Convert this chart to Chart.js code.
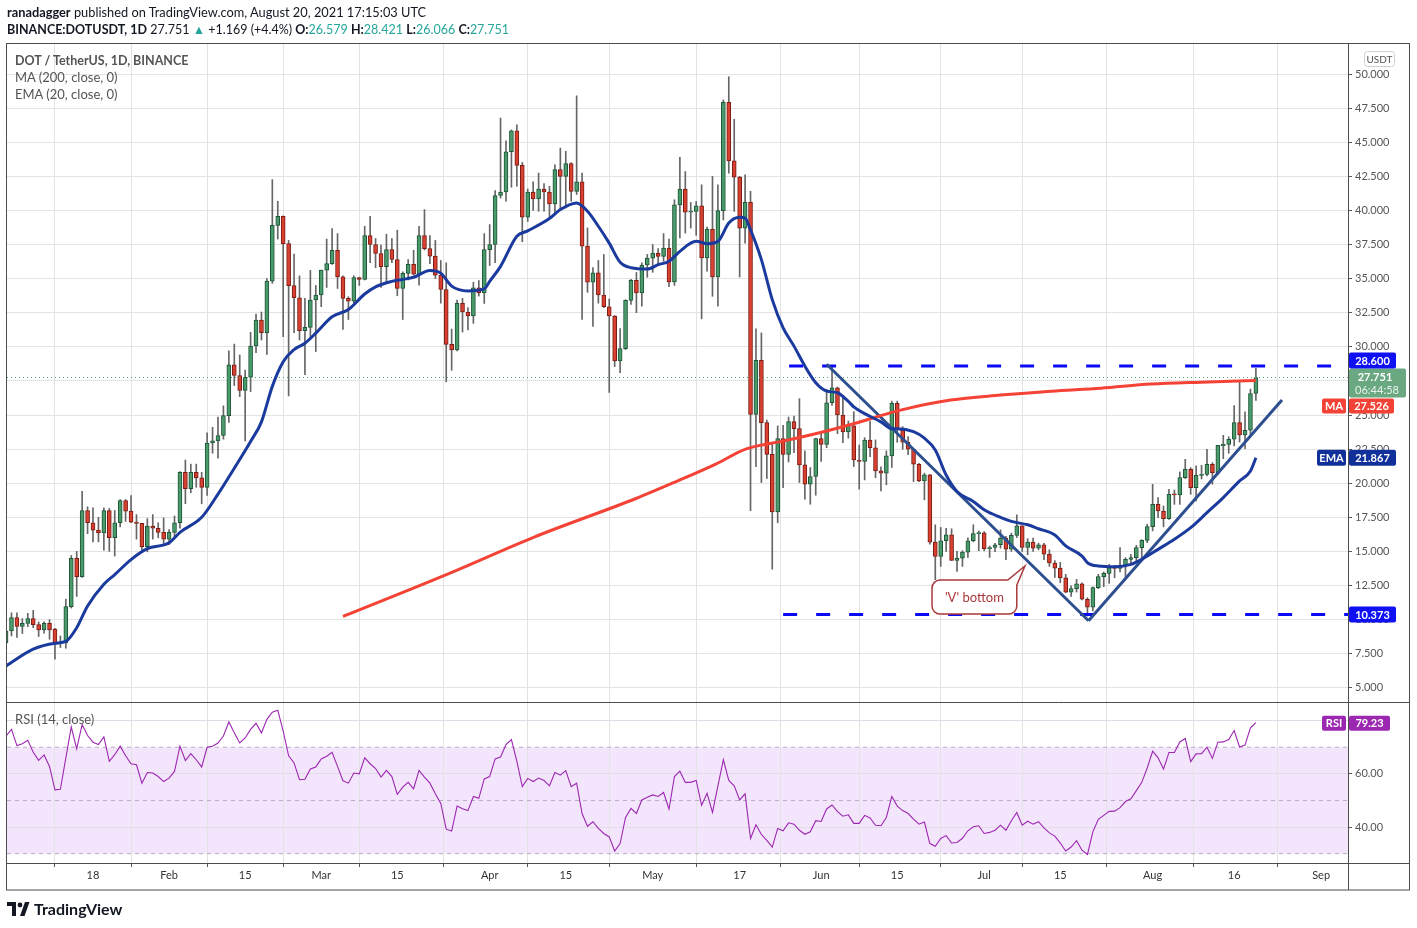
<!DOCTYPE html>
<html>
<head>
<meta charset="utf-8">
<script src="https://cdn.jsdelivr.net/npm/chart.js@4.4.1/dist/chart.umd.min.js"></script>
<style>
  body { margin: 0; background: #fff; }
  #wrap { position: relative; width: 1417px; height: 928px; font-family: Lato, "Open Sans", sans-serif; color: #131722; }
  canvas { position: absolute; left: 0; top: 0; }
  .t { position: absolute; white-space: nowrap; font-size: 13px; line-height: 17px; }
  .g { color: #26a69a; }
  .lg { color: #555; }
</style>
</head>
<body>
<div id="wrap">
  <canvas id="chart" width="1417" height="928"></canvas>
  <div class="t" style="left:7px;top:4px;font-size:12.8px"><b>ranadagger</b> published on TradingView.com, August 20, 2021 17:15:03 UTC</div>
  <div class="t" style="left:7px;top:21px;font-size:12.5px"><b>BINANCE:DOTUSDT, 1D</b> 27.751 <span class="g">▲</span> +1.169 (+4.4%) <b>O:</b><span class="g">26.579</span> <b>H:</b><span class="g">28.421</span> <b>L:</b><span class="g">26.066</span> <b>C:</b><span class="g">27.751</span></div>
  <div class="t lg" style="left:15px;top:52px;font-weight:700;font-size:12.5px">DOT / TetherUS, 1D, BINANCE</div>
  <div class="t lg" style="left:15px;top:69px">MA (200, close, 0)</div>
  <div class="t lg" style="left:15px;top:86px">EMA (20, close, 0)</div>
  <div class="t lg" style="left:15px;top:711px">RSI (14, close)</div>
  <div class="t" style="left:7px;top:900px;font-size:16px;line-height:18px;font-weight:700;color:#131722">
    <svg width="24" height="14" viewBox="0 0 24 14" style="vertical-align:-1px;margin-right:3px"><path d="M0 0h9v14h-4v-10h-5z" fill="#131722"/><circle cx="13" cy="3" r="2.4" fill="#131722"/><path d="M13 14l5-14h4.5l-5 14z" fill="#131722"/></svg>TradingView
  </div>
</div>
<script>
// day numbers count from 1 Jan 2021 (= day 0); first candle is 2 Jan
const firstDay = 1;

const opens = [
  8.3, 9.17, 10.15, 9.5, 9.73, 10.07, 9.63, 9.24, 9.73, 9.3,
  8.24, 8.3, 10.95, 14.5, 13.15, 18.0, 17.1, 16.56, 16.36, 18.0,
  16.0, 17.1, 18.73, 17.95, 17.15, 17.05, 15.34, 16.85, 16.7, 16.4,
  15.9, 16.4, 17.1, 20.8, 19.6, 20.8, 20.4, 19.7, 22.95, 23.1,
  23.5, 24.96, 28.67, 27.9, 26.8, 27.77, 30.06, 31.96, 31.04, 34.82,
  38.9, 39.57, 37.57, 34.48, 33.6, 31.18, 31.43, 33.43, 33.8, 35.62,
  36.1, 37.08, 35.13, 33.55, 33.35, 35.08, 34.94, 38.16, 37.5, 36.84,
  35.87, 37.13, 36.4, 34.28, 35.38, 36.04, 35.33, 38.16, 37.2, 36.65,
  35.26, 34.2, 30.18, 29.77, 33.18, 32.55, 32.26, 34.33, 33.96, 37.13,
  37.5, 41.09, 41.35, 44.3, 45.84, 43.3, 39.5, 41.35, 40.84, 41.57,
  41.35, 40.48, 42.99, 42.5, 43.43, 41.4, 42.09, 37.38, 34.74, 35.43,
  33.8, 32.94, 32.26, 28.96, 29.87, 33.4, 34.87, 33.96, 36.0, 36.5,
  36.88, 36.63, 37.24, 34.76, 40.41, 41.56, 39.88, 39.93, 40.34, 36.51,
  38.63, 35.12, 39.98, 47.93, 43.63, 42.44, 38.7, 40.6, 25.05, 29.0,
  24.44, 22.12, 17.9, 23.27, 22.12, 24.51, 24.0, 21.34, 19.93, 20.49,
  23.27, 22.85, 25.9, 27.0, 25.0, 23.76, 24.2, 21.7, 21.59, 23.17,
  22.6, 20.9, 20.73, 22.0, 25.85, 23.9, 23.0, 22.49, 21.39, 20.17,
  20.61, 15.68, 14.63, 15.78, 16.22, 14.34, 14.51, 14.95, 15.78, 16.3,
  16.37, 15.2, 15.29, 15.49, 15.98, 15.17, 16.17, 16.88, 15.29, 15.68,
  15.24, 15.49, 14.8, 14.15, 13.78, 13.07, 12.02, 12.27, 12.63, 11.49,
  10.92, 12.34, 13.15, 13.39, 13.81, 13.76, 13.98, 14.42, 14.54, 15.28,
  15.81, 16.82, 18.45, 17.96, 17.4, 19.22, 19.15, 20.41, 21.02, 19.68,
  20.58, 20.65, 21.39, 20.78, 22.73, 22.85, 23.22, 24.44, 23.54, 23.88,
  26.579
];
const highs = [
  9.4, 10.5, 10.5, 10.07, 10.46, 10.68, 9.83, 9.83, 10.0, 9.36,
  8.8, 11.5, 14.7, 15.0, 19.4, 18.27, 18.2, 17.5, 18.2, 18.15,
  18.0, 18.8, 18.8, 19.1, 17.7, 17.05, 17.4, 17.7, 17.1, 17.45,
  16.6, 17.6, 20.85, 21.7, 21.4, 21.4, 20.8, 23.7, 24.1, 24.84,
  25.67, 29.7, 30.2, 29.4, 28.3, 31.06, 32.4, 32.55, 35.0, 42.26,
  40.67, 39.6, 37.8, 36.8, 35.2, 33.55, 35.6, 34.5, 35.62, 37.9,
  38.67, 38.3, 35.2, 33.67, 35.2, 35.1, 38.84, 39.57, 37.94, 37.45,
  38.26, 37.94, 38.55, 35.5, 36.4, 37.08, 38.84, 40.06, 38.16, 37.8,
  36.33, 36.16, 31.3, 33.43, 33.55, 32.87, 34.74, 34.86, 38.3, 38.96,
  41.45, 46.77, 45.1, 45.9, 46.28, 43.52, 41.57, 42.1, 42.74, 41.96,
  41.77, 43.35, 44.57, 44.33, 43.5, 48.4, 42.74, 38.72, 35.8, 36.33,
  36.77, 33.5, 32.3, 31.33, 33.45, 34.94, 35.45, 36.15, 36.77, 37.5,
  37.2, 38.3, 37.9, 40.78, 43.9, 42.85, 40.58, 40.66, 41.88, 38.78,
  42.49, 41.88, 48.1, 49.8, 46.68, 42.5, 42.6, 41.39, 31.32, 31.02,
  24.63, 22.98, 24.2, 24.24, 24.85, 24.93, 26.2, 22.37, 21.15, 23.3,
  23.75, 26.83, 28.6, 27.05, 26.39, 24.56, 25.24, 22.8, 23.34, 24.56,
  23.17, 21.2, 22.37, 26.02, 26.02, 24.15, 23.42, 22.49, 21.45, 20.73,
  20.66, 16.95, 16.76, 16.7, 16.66, 15.0, 15.05, 16.0, 16.95, 16.5,
  16.45, 15.39, 15.6, 16.58, 16.1, 16.34, 17.68, 16.88, 15.93, 15.98,
  15.6, 15.6, 15.12, 14.32, 14.2, 13.32, 12.47, 12.95, 12.7, 11.61,
  12.41, 13.32, 13.49, 14.05, 13.98, 15.28, 14.54, 14.78, 15.45, 15.86,
  16.99, 19.92, 18.94, 18.33, 19.56, 19.51, 20.83, 21.75, 21.14, 21.27,
  21.31, 22.49, 21.51, 22.78, 23.51, 23.41, 25.7, 27.5, 25.23, 26.9,
  28.421
];
const lows = [
  8.1, 8.8, 8.7, 8.98, 9.49, 9.41, 8.76, 9.0, 8.56, 7.1,
  7.95, 7.9, 10.85, 11.7, 13.1, 16.3, 15.7, 15.7, 15.1, 15.0,
  14.66, 16.8, 17.2, 17.1, 15.9, 14.97, 14.97, 15.9, 16.0, 15.5,
  15.5, 16.0, 16.7, 18.5, 19.3, 19.7, 18.5, 19.1, 22.2, 21.84,
  23.23, 24.45, 27.16, 26.35, 23.1, 26.72, 29.57, 30.5, 29.45, 34.65,
  37.9, 30.74, 26.4, 31.04, 30.5, 27.96, 30.74, 29.65, 32.94, 34.35,
  36.04, 34.28, 31.28, 32.0, 33.2, 34.5, 34.9, 36.16, 35.8, 34.35,
  34.77, 36.16, 33.74, 32.0, 34.9, 35.25, 34.52, 37.1, 36.1, 35.0,
  33.2, 27.43, 28.28, 29.7, 31.08, 31.23, 31.72, 33.72, 33.18, 35.96,
  36.16, 40.9, 40.67, 41.7, 41.77, 37.7, 39.2, 40.0, 39.94, 39.94,
  39.45, 39.82, 40.0, 40.18, 40.67, 41.16, 32.0, 34.0, 31.5, 33.2,
  32.87, 26.65, 28.55, 28.1, 29.8, 33.1, 32.5, 32.98, 35.1, 35.46,
  36.0, 36.27, 34.4, 34.5, 37.98, 38.34, 38.7, 38.17, 32.05, 35.54,
  33.7, 32.98, 39.3, 42.73, 39.93, 35.12, 37.6, 17.98, 21.22, 20.05,
  20.34, 13.7, 17.1, 19.68, 21.56, 22.24, 20.05, 18.83, 18.46, 19.12,
  21.6, 22.6, 25.7, 23.63, 22.98, 23.3, 21.22, 19.56, 20.24, 21.95,
  20.4, 19.44, 19.88, 21.15, 23.0, 22.49, 22.1, 20.12, 20.12, 18.78,
  15.54, 12.93, 13.9, 15.0, 14.34, 13.54, 13.9, 14.56, 15.7, 15.05,
  15.05, 14.56, 14.98, 15.24, 14.39, 15.0, 16.02, 15.0, 14.76, 15.0,
  15.12, 14.39, 13.9, 13.1, 12.7, 11.97, 11.7, 12.02, 11.44, 10.26,
  10.63, 12.27, 12.41, 12.66, 13.07, 13.49, 13.0, 14.05, 14.3, 14.42,
  15.64, 16.5, 17.48, 16.8, 17.35, 18.45, 18.45, 20.34, 19.19, 18.7,
  20.31, 20.53, 19.92, 20.66, 21.8, 22.2, 22.73, 23.02, 22.54, 23.42,
  26.066
];
const closes = [
  9.17, 10.15, 9.5, 9.73, 10.07, 9.63, 9.24, 9.73, 9.24, 8.24,
  8.3, 10.95, 14.5, 13.15, 18.0, 17.1, 16.56, 16.36, 18.0, 16.0,
  17.1, 18.73, 17.95, 17.15, 17.05, 15.34, 16.85, 16.7, 16.4, 15.9,
  16.4, 17.1, 20.8, 19.6, 20.8, 20.4, 19.7, 22.95, 23.1, 23.5,
  24.96, 28.67, 27.9, 26.8, 27.77, 30.06, 31.96, 31.04, 34.82, 38.9,
  39.57, 37.57, 34.48, 33.6, 31.18, 31.43, 33.43, 33.8, 35.62, 36.1,
  37.08, 35.13, 33.55, 33.35, 35.08, 34.94, 38.16, 37.5, 36.84, 35.87,
  37.13, 36.4, 34.28, 35.38, 36.04, 35.33, 38.16, 37.2, 36.65, 35.26,
  34.2, 30.18, 29.77, 33.18, 32.55, 32.26, 34.33, 33.96, 37.13, 37.5,
  41.09, 41.35, 44.3, 45.84, 43.3, 39.5, 41.35, 40.84, 41.57, 41.35,
  40.48, 42.99, 42.5, 43.43, 41.4, 42.09, 37.38, 34.74, 35.43, 33.8,
  32.94, 32.26, 28.96, 29.87, 33.4, 34.87, 33.96, 36.0, 36.5, 36.88,
  36.63, 37.24, 34.76, 40.41, 41.56, 39.88, 39.93, 40.34, 36.51, 38.63,
  35.12, 39.98, 47.93, 43.63, 42.44, 38.7, 40.6, 25.05, 29.0, 24.44,
  22.12, 17.9, 23.27, 22.12, 24.51, 24.0, 21.34, 19.93, 20.49, 23.27,
  22.85, 25.9, 27.0, 25.0, 23.76, 24.2, 21.7, 21.59, 23.17, 22.6,
  20.9, 20.73, 22.0, 25.85, 23.9, 23.0, 22.49, 21.39, 20.17, 20.61,
  15.68, 14.63, 15.78, 16.22, 14.34, 14.51, 14.95, 15.78, 16.3, 16.37,
  15.2, 15.29, 15.49, 15.98, 15.17, 16.17, 16.88, 15.29, 15.68, 15.24,
  15.49, 14.8, 14.15, 13.78, 13.07, 12.02, 12.27, 12.63, 11.49, 10.92,
  12.34, 13.15, 13.39, 13.81, 13.76, 13.98, 14.42, 14.54, 15.28, 15.81,
  16.82, 18.45, 17.96, 17.4, 19.19, 19.15, 20.41, 21.02, 19.68, 20.58,
  20.65, 21.39, 20.78, 22.78, 22.85, 23.22, 24.44, 23.54, 23.88, 26.58,
  27.751
];

// EMA 20 and MA 200 at these days
const emaDays = [1, 6, 10, 12, 14, 16, 19, 21, 24, 27, 31, 33, 37, 40, 43, 46, 48, 50, 52, 54, 56, 58, 61, 64, 67, 69, 72, 74, 76, 79, 81,
  83, 86, 89, 90, 92, 95, 97, 101, 103, 106, 108, 110, 112, 114, 116, 119, 121, 123, 125, 128, 130, 132, 134, 136, 137, 138,
  140, 142, 144, 146, 148, 150, 152, 154, 156, 157, 159, 162, 164, 165, 168, 170, 172, 174, 176, 179, 181, 184, 186, 189,
  191, 194, 196, 199, 200, 202, 205, 208, 210, 213, 216, 219, 222, 225, 228, 230, 231];
const emaValues = [6.6, 7.83, 8.27, 8.4, 9.4, 11.0, 12.6, 13.3, 14.4, 15.2, 15.63, 16.4, 17.5, 19.2, 21.1, 23.06, 24.5, 27.1, 28.9, 29.8, 30.26, 31.0, 32.2, 32.74, 33.87, 34.4, 34.8, 34.94, 35.1, 35.6, 35.4,
  34.45, 34.1, 34.25, 34.8, 35.9, 38.1, 38.5, 39.4, 40.06, 40.55, 39.94, 38.84, 37.6, 36.2, 35.8, 35.7, 36.02, 36.27, 37.0, 37.73, 37.56, 37.73, 39.07, 39.49, 39.44, 38.58,
  36.39, 33.46, 31.39, 30.05, 28.59, 27.37, 26.76, 26.63, 26.0, 25.6, 25.1, 24.5, 24.0, 24.0, 23.78, 23.3, 22.44, 20.6, 19.39, 18.66, 18.05, 17.49, 17.2, 16.95,
  16.66, 16.2, 15.4, 14.66, 14.17, 13.93, 13.88, 14.05, 14.42, 15.15, 15.89, 16.74, 17.84, 18.94, 20.17, 20.9, 21.867];
const maDays = [63, 82.7, 98.3, 116.8, 124.2, 131.6, 137.1, 144.4, 150.5, 157.3, 165.6, 174.8, 184, 193.3, 202.5, 211.7, 220.9, 231];
const maValues = [10.23, 13.41, 16.07, 18.86, 20.1, 21.4, 22.5, 23.12, 23.68, 24.4, 25.36, 26.1, 26.46, 26.75, 26.97, 27.27, 27.41, 27.526];

// RSI 14, one value per candle
const rsiValues = [
  74.2, 76.7, 70.6, 71.3, 72.6, 68.1, 65.1, 67.1, 62.8, 54.0,
  54.2, 66.0, 77.6, 69.4, 78.5, 74.4, 71.9, 71.0, 73.9, 64.7,
  67.2, 70.4, 66.8, 63.8, 63.4, 56.5, 60.5, 60.3, 59.0, 57.1,
  58.4, 60.9, 70.4, 65.0, 67.6, 65.3, 62.6, 70.0, 70.4, 71.6,
  74.2, 79.5, 75.4, 71.6, 73.5, 76.7, 79.0, 75.4, 80.5, 83.2,
  83.9, 76.1, 66.8, 64.1, 57.8, 58.0, 61.8, 62.6, 65.6, 66.6,
  68.1, 62.8, 57.4, 56.5, 60.3, 60.0, 66.0, 63.8, 62.0, 58.8,
  61.3, 59.0, 52.3, 55.0, 56.8, 54.4, 61.3, 58.8, 56.5, 52.5,
  48.9, 39.2, 38.5, 47.9, 46.9, 46.2, 51.5, 50.8, 58.1, 59.0,
  65.6, 66.3, 71.0, 72.9, 64.7, 55.2, 58.3, 57.1, 58.4, 57.5,
  55.5, 60.5, 59.5, 61.2, 55.2, 56.5, 45.1, 40.3, 42.0, 39.5,
  37.6, 36.3, 31.0, 33.8, 43.6, 47.0, 45.1, 50.2, 51.2, 52.1,
  51.5, 53.0, 46.7, 59.0, 61.0, 56.8, 56.8, 57.5, 48.2, 52.7,
  45.5, 55.5, 65.3, 57.5, 55.5, 50.2, 52.5, 35.7, 40.9, 37.2,
  35.0, 32.5, 39.5, 38.6, 41.6, 41.1, 38.8, 37.3, 38.2, 42.4,
  42.1, 46.8, 48.3, 45.8, 44.1, 44.6, 41.4, 41.4, 44.4, 43.4,
  40.7, 40.5, 43.6, 51.5, 47.9, 46.2, 45.1, 43.0, 41.1, 41.9,
  33.8, 32.8, 35.7, 36.8, 34.0, 34.2, 35.8, 38.6, 40.1, 40.5,
  37.6, 38.0, 38.8, 40.7, 38.8, 42.4, 45.5, 40.7, 42.2, 41.1,
  42.0, 39.7, 37.8, 36.6, 34.0, 31.0, 32.5, 34.9, 31.3, 29.7,
  38.2, 42.9, 44.4, 45.9, 46.0, 47.3, 49.6, 50.6, 53.7, 56.8,
  62.2, 68.5, 66.0, 61.8, 68.0, 68.0, 72.0, 73.3, 64.6, 67.5,
  67.6, 70.0, 65.8, 71.9, 72.0, 72.9, 76.3, 70.1, 70.8, 77.3,
  79.23
];

const tickDays = [17, 31, 45, 59, 73, 90, 104, 120, 136, 151, 165, 181, 195, 212, 227, 243];
const tickLabels = ['18', 'Feb', '15', 'Mar', '15', 'Apr', '15', 'May', '17', 'Jun', '15', 'Jul', '15', 'Aug', '16', 'Sep'];
const priceTicks = [5, 7.5, 10, 12.5, 15, 17.5, 20, 22.5, 25, 27.5, 30, 32.5, 35, 37.5, 40, 42.5, 45, 47.5, 50];
const rsiTicks = [40, 60, 80];
const rsiLabels = ['40.00', '60.00', ''];
const rsiLevels = [70, 50, 30];

// drawn annotations
const resistance = 28.6, resistanceFrom = 145.1;
const support = 10.373, supportFrom = 144.0;
const lastPrice = 27.751;
const downTrendDays = [152.0, 200.2], downTrendPrices = [28.72, 9.92];
const upTrendDays = [200.2, 235.8], upTrendPrices = [9.92, 26.1];
const calloutText = "'V' bottom";
const calloutDays = [171.4, 187.0], calloutPrices = [12.9, 10.41], calloutTip = [188.5, 13.93];

const xMin = 1.174, xMax = 247.95;
const priceMin = 3.96, priceMax = 52.2;
const rsiMin = 26.5, rsiMax = 87.0;

const days = opens.map((_, i) => firstDay + i);
const rising = opens.map((o, i) => closes[i] >= o);
const pts = (xs, ys) => xs.map((x, i) => ({x: x, y: ys[i]}));

Chart.defaults.font.family = 'Lato, "Open Sans", sans-serif';

function tag(ctx, x, y, w, h, bg, text, fg) {
  ctx.fillStyle = bg;
  ctx.beginPath();
  ctx.roundRect(x, y, w, h, 2);
  ctx.fill();
  ctx.fillStyle = fg;
  ctx.textAlign = 'center';
  ctx.textBaseline = 'middle';
  ctx.fillText(text, x + w / 2, y + h / 2 + 0.5);
}

const overlay = {
  id: 'overlay',
  beforeDraw(chart) {
    const {ctx, chartArea: a, scales: {yr}} = chart;
    const t = yr.getPixelForValue(70), b = yr.getPixelForValue(30);
    ctx.save();
    ctx.fillStyle = '#f3e6fc';
    ctx.fillRect(a.left, t, a.right - a.left, b - t);
    ctx.restore();
  },
  afterDatasetsDraw(chart) {
    const {ctx, scales: {x, y}} = chart;
    const l = x.getPixelForValue(calloutDays[0]), r = x.getPixelForValue(calloutDays[1]);
    const t = y.getPixelForValue(calloutPrices[0]), b = y.getPixelForValue(calloutPrices[1]);
    const tx = x.getPixelForValue(calloutTip[0]), ty = y.getPixelForValue(calloutTip[1]);
    const rad = 8;
    ctx.save();
    ctx.beginPath();
    ctx.moveTo(l + rad, t);
    ctx.lineTo(r - 9, t);
    ctx.lineTo(tx, ty);
    ctx.lineTo(r, t + 5);
    ctx.lineTo(r, b - rad);
    ctx.arcTo(r, b, r - rad, b, rad);
    ctx.lineTo(l + rad, b);
    ctx.arcTo(l, b, l, b - rad, rad);
    ctx.lineTo(l, t + rad);
    ctx.arcTo(l, t, l + rad, t, rad);
    ctx.closePath();
    ctx.fillStyle = '#fff';
    ctx.fill();
    ctx.strokeStyle = '#a8383a';
    ctx.lineWidth = 1.5;
    ctx.stroke();
    ctx.fillStyle = '#a8383a';
    ctx.font = '13px Lato';
    ctx.textAlign = 'center';
    ctx.textBaseline = 'middle';
    ctx.fillText(calloutText, (l + r) / 2, (t + b) / 2 + 1);
    ctx.restore();
  },
  afterDraw(chart) {
    const {ctx, chartArea: a, scales: {y, yr}} = chart;
    const W = chart.width;
    ctx.save();
    // frame and pane separators
    ctx.strokeStyle = '#4d4d4d';
    ctx.lineWidth = 1;
    ctx.strokeRect(6.5, 43.5, W - 14, 846.5);
    ctx.beginPath();
    ctx.moveTo(a.right + 0.5, 43.5); ctx.lineTo(a.right + 0.5, 890);
    ctx.moveTo(6.5, Math.round(y.bottom) + 0.5); ctx.lineTo(W - 7.5, Math.round(y.bottom) + 0.5);
    ctx.moveTo(6.5, Math.round(a.bottom) + 0.5); ctx.lineTo(W - 7.5, Math.round(a.bottom) + 0.5);
    ctx.stroke();

    // currency box
    ctx.strokeStyle = '#d0d0d0';
    ctx.beginPath(); ctx.roundRect(1364.5, 51.5, 30, 15, 3); ctx.stroke();
    ctx.fillStyle = '#555'; ctx.font = '10px Lato'; ctx.textAlign = 'center'; ctx.textBaseline = 'middle';
    ctx.fillText('USDT', 1379.5, 59.5);

    ctx.font = 'bold 11px Lato';
    const vx = a.right + 1;
    // last price tag with countdown
    const pTop = y.getPixelForValue(lastPrice) - 9;
    ctx.fillStyle = '#6aa882';
    ctx.beginPath(); ctx.roundRect(vx, pTop, 57, 29, 2); ctx.fill();
    ctx.fillStyle = '#fff'; ctx.textAlign = 'center'; ctx.textBaseline = 'middle';
    ctx.fillText(lastPrice.toFixed(3), vx + 26, pTop + 9);
    ctx.font = '11px Lato';
    ctx.fillStyle = '#e8f3ec';
    ctx.fillText('06:44:58', vx + 28, pTop + 22);
    ctx.font = 'bold 11px Lato';
    // resistance / support
    const rBottom = Math.min(y.getPixelForValue(resistance) + 8, pTop);
    tag(ctx, vx, rBottom - 16, 47, 16, '#1010f5', resistance.toFixed(3), '#fff');
    tag(ctx, vx, y.getPixelForValue(support) - 8, 47, 16, '#1010f5', support.toFixed(3), '#fff');
    // MA
    const maLast = maValues[maValues.length - 1];
    const maTop = Math.max(y.getPixelForValue(maLast) - 8, pTop + 30);
    tag(ctx, a.right - 26, maTop, 24, 15, '#f44336', 'MA', '#fff');
    tag(ctx, vx, maTop, 45, 15, '#f44336', maLast.toFixed(3), '#fff');
    // EMA
    const emaLast = emaValues[emaValues.length - 1];
    const eTop = y.getPixelForValue(emaLast) - 8;
    tag(ctx, a.right - 31, eTop, 29, 16, '#11309a', 'EMA', '#fff');
    tag(ctx, vx, eTop, 47, 16, '#11309a', emaLast.toFixed(3), '#fff');
    // RSI
    const rsiLast = rsiValues[rsiValues.length - 1];
    const rTop = yr.getPixelForValue(rsiLast) - 7;
    tag(ctx, a.right - 26, rTop, 24, 15, '#9c27b0', 'RSI', '#fff');
    tag(ctx, vx, rTop, 41, 15, '#9c27b0', rsiLast.toFixed(2), '#fff');
    ctx.restore();
  }
};

const hLine = (from, to, v) => [{x: from, y: v}, {x: to, y: v}];

new Chart(document.getElementById('chart'), {
  type: 'bar',
  data: {
    datasets: [
      {type: 'line', data: pts(days, rsiValues), yAxisID: 'yr', borderColor: '#9c27b0', borderWidth: 1.1, pointRadius: 0, order: 0},
      ...rsiLevels.map(v => ({type: 'line', data: hLine(xMin, xMax, v), yAxisID: 'yr', borderColor: '#b7abc0', borderWidth: 1, borderDash: [4, 4], pointRadius: 0, order: 1})),
      {type: 'line', data: pts(emaDays, emaValues), yAxisID: 'y', borderColor: '#1a3a9e', borderWidth: 3, pointRadius: 0, cubicInterpolationMode: 'monotone', order: 0},
      {type: 'line', data: pts(maDays, maValues), yAxisID: 'y', borderColor: '#f44336', borderWidth: 3, pointRadius: 0, cubicInterpolationMode: 'monotone', order: 0},
      {type: 'line', data: pts(downTrendDays, downTrendPrices), yAxisID: 'y', borderColor: '#2e4f8f', borderWidth: 3, pointRadius: 0, order: 0},
      {type: 'line', data: pts(upTrendDays, upTrendPrices), yAxisID: 'y', borderColor: '#2e4f8f', borderWidth: 3, pointRadius: 0, order: 0},
      {type: 'line', data: hLine(resistanceFrom, xMax, resistance), yAxisID: 'y', borderColor: '#0a0af5', borderWidth: 3, borderDash: [14, 19], pointRadius: 0, order: 0},
      {type: 'line', data: hLine(supportFrom, xMax, support), yAxisID: 'y', borderColor: '#0a0af5', borderWidth: 3, borderDash: [14, 19], pointRadius: 0, order: 0},
      {type: 'line', data: hLine(xMin, xMax, lastPrice), yAxisID: 'y', borderColor: '#4fa878', borderWidth: 1, borderDash: [1, 3], pointRadius: 0, order: 1},
      {
        type: 'bar', yAxisID: 'y', order: 2,
        data: days.map((d, i) => ({x: d, y: [opens[i], closes[i]]})),
        backgroundColor: rising.map(u => u ? '#4a9a6c' : '#d8402f'),
        borderColor: rising.map(u => u ? '#1d5536' : '#7a1b14'),
        borderWidth: 1, borderSkipped: false, barThickness: 4, minBarLength: 1, grouped: false
      },
      {
        type: 'bar', yAxisID: 'y', order: 3,
        data: days.map((d, i) => ({x: d, y: [lows[i], highs[i]]})),
        backgroundColor: '#666666', barThickness: 1, minBarLength: 1, grouped: false
      }
    ]
  },
  options: {
    responsive: false,
    animation: false,
    events: [],
    layout: {autoPadding: false, padding: {left: 7, top: 44, right: 7, bottom: 38}},
    plugins: {legend: {display: false}, tooltip: {enabled: false}},
    scales: {
      x: {
        type: 'linear', min: xMin, max: xMax, offset: false,
        afterBuildTicks: s => { s.ticks = tickDays.map(v => ({value: v})); },
        afterFit: s => { s.height = 27; },
        ticks: {autoSkip: false, maxRotation: 0, color: '#333', font: {size: 11}, padding: 2,
          callback: (v, i) => tickLabels[i]},
        grid: {color: '#e3e3e3', tickColor: '#555', tickLength: 4},
        border: {color: '#4d4d4d'}
      },
      y: {
        type: 'linear', position: 'right', stack: 'panes', stackWeight: 658,
        min: priceMin, max: priceMax,
        afterBuildTicks: s => { s.ticks = priceTicks.map(v => ({value: v})); },
        afterFit: s => { s.width = 62; },
        ticks: {color: '#555', font: {size: 11}, padding: 3, callback: v => Number(v).toFixed(3)},
        grid: {color: '#e3e3e3', tickColor: '#555', tickLength: 4},
        border: {color: '#4d4d4d'}
      },
      yr: {
        type: 'linear', position: 'right', stack: 'panes', stackWeight: 161,
        min: rsiMin, max: rsiMax,
        afterBuildTicks: s => { s.ticks = rsiTicks.map(v => ({value: v})); },
        afterFit: s => { s.width = 62; },
        ticks: {color: '#555', font: {size: 11}, padding: 3, callback: (v, i) => rsiLabels[i]},
        grid: {color: '#e3dbe8', tickColor: '#555', tickLength: 4},
        border: {color: '#4d4d4d'}
      }
    }
  },
  plugins: [overlay]
});
</script>
</body>
</html>
